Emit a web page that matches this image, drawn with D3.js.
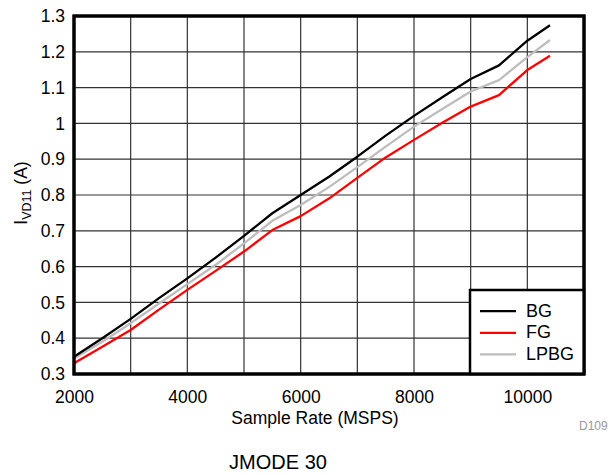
<!DOCTYPE html>
<html><head><meta charset="utf-8">
<script src="https://cdn.jsdelivr.net/npm/d3@7"></script>
<style>body{margin:0;background:#fff}svg{display:block;font-family:"Liberation Sans",Arial,sans-serif}</style>
</head><body><svg id="c" width="610" height="475"></svg>
<script>
const sampleRates = [2000,2500,3000,3500,4000,4500,5000,5500,6000,6500,7000,7500,8000,8500,9000,9500,10000,10400];
const bg   = [0.348,0.400,0.454,0.512,0.567,0.625,0.686,0.749,0.800,0.851,0.907,0.966,1.021,1.073,1.124,1.162,1.231,1.274];
const lpbg = [0.343,0.390,0.442,0.497,0.551,0.605,0.665,0.728,0.772,0.822,0.878,0.935,0.991,1.040,1.089,1.121,1.185,1.233];
const fg   = [0.330,0.376,0.423,0.480,0.535,0.588,0.642,0.702,0.741,0.790,0.848,0.905,0.954,1.002,1.047,1.079,1.149,1.189];
const seriesNames = ["BG","FG","LPBG"];
const seriesColors = ["#000000","#ff0000","#bdbdbd"];
const xTicks = [2000,4000,6000,8000,10000];
const xGrid = [3000,4000,5000,6000,7000,8000,9000,10000];
const yTicks = [0.3,0.4,0.5,0.6,0.7,0.8,0.9,1.0,1.1,1.2,1.3];

const svg = d3.select("#c");
const L=74,T=16,R=584,B=374;
const x = d3.scaleLinear().domain([2000,11000]).range([L,R]);
const y = d3.scaleLinear().domain([0.3,1.3]).range([B,T]);

// grid
svg.append("g").selectAll("line").data(xGrid).join("line")
  .attr("x1",d=>x(d)).attr("x2",d=>x(d)).attr("y1",T).attr("y2",B)
  .attr("stroke","#333").attr("stroke-width",1.2);
svg.append("g").selectAll("line").data(yTicks.slice(1,-1)).join("line")
  .attr("x1",L).attr("x2",R).attr("y1",d=>y(d)).attr("y2",d=>y(d))
  .attr("stroke","#333").attr("stroke-width",1.2);

// lines
const allSeries=[bg,fg,lpbg];
const line = d3.line().x((d,i)=>x(sampleRates[i])).y(d=>y(d));
[2,1,0].forEach(k=>{
  svg.append("path").attr("d",line(allSeries[k])).attr("fill","none")
    .attr("stroke",seriesColors[k]).attr("stroke-width",2.3).attr("stroke-linejoin","round");
});

// frame
svg.append("rect").attr("x",L).attr("y",T).attr("width",R-L).attr("height",B-T)
  .attr("fill","none").attr("stroke","#000").attr("stroke-width",3);

// axes tick labels
const FS = 17.5;
const xa = d3.axisBottom(x).tickValues(xTicks).tickSize(0).tickPadding(16.5).tickFormat(d3.format("d"));
const ga = svg.append("g").attr("transform",`translate(0,${B})`).call(xa);
ga.select(".domain").remove();
ga.selectAll("text").attr("font-size",FS).attr("fill","#000").attr("font-family","Liberation Sans, Arial, sans-serif");
const ya = d3.axisLeft(y).tickValues(yTicks).tickSize(0).tickPadding(9).tickFormat(d=>d3.format("")(+d.toFixed(1)));
const gy = svg.append("g").attr("transform",`translate(${L},0)`).call(ya);
gy.select(".domain").remove();
gy.selectAll("text").attr("font-size",FS).attr("fill","#000").attr("font-family","Liberation Sans, Arial, sans-serif");

// titles
svg.append("text").attr("x",315).attr("y",424).attr("text-anchor","middle")
  .attr("font-size",FS).text("Sample Rate (MSPS)");
const yl = svg.append("text").attr("transform","translate(27,193) rotate(-90)").attr("text-anchor","middle").attr("font-size",FS);
yl.append("tspan").text("I");
yl.append("tspan").attr("font-size",12.5).attr("dy",4).text("VD11");
yl.append("tspan").attr("dy",-4).text(" (A)");
svg.append("text").attr("x",278).attr("y",469).attr("text-anchor","middle").attr("font-size",20).text("JMODE 30");
svg.append("text").attr("x",579).attr("y",430).attr("font-size",12).attr("fill","#999").text("D109");

// legend
const lg = svg.append("g");
lg.append("rect").attr("x",470).attr("y",290).attr("width",R-470).attr("height",B-290)
  .attr("fill","#fff").attr("stroke","#000").attr("stroke-width",2.5);
seriesNames.forEach((n,i)=>{
  const base = 316.7 + i*21.6;
  lg.append("line").attr("x1",480).attr("x2",516).attr("y1",base-5.5).attr("y2",base-5.5)
    .attr("stroke",seriesColors[i]).attr("stroke-width",2.3);
  lg.append("text").attr("x",526).attr("y",base).attr("font-size",18).text(n);
});
// redraw frame edge over legend
svg.append("rect").attr("x",L).attr("y",T).attr("width",R-L).attr("height",B-T)
  .attr("fill","none").attr("stroke","#000").attr("stroke-width",3);
</script></body></html>
